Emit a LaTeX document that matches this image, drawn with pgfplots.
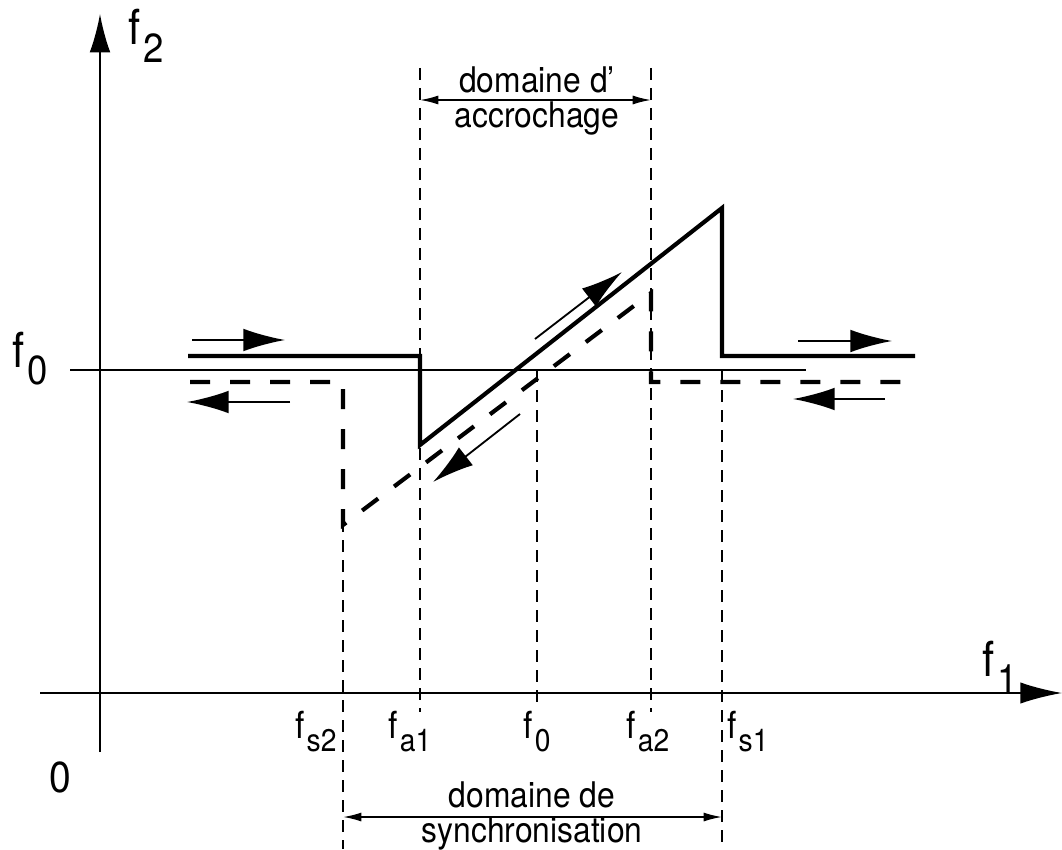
\documentclass[border=0pt]{standalone}
\usepackage{fontspec}
\setmainfont{TeX Gyre Heros}
\newfontfamily\narrowfont{TeX Gyre Heros}[FakeStretch=0.9, Ligatures=TeX]
\usepackage{graphicx}
\usepackage{pgfplots}
\pgfplotsset{compat=1.18}
\usetikzlibrary{arrows.meta}
% f with a lowered, smaller index
\newcommand{\fsub}[1]{f\kern0.05em\raisebox{-0.37em}{\scalebox{0.84}{#1}}}
\begin{document}
\begin{tikzpicture}
\begin{axis}[name=ax, at={(0,0)}, anchor=south west,
  width=318.6pt, height=254.7pt, scale only axis,
  xmin=0, xmax=1062, ymin=0, ymax=849, y dir=reverse,
  axis lines=none, clip=false,
  thin guide/.style={line width=0.35pt, dash pattern=on 3.6pt off 2.4pt},
  big head/.style={-{Latex[length=12.5pt,width=6.8pt]}},
]
% axes
\addplot[line width=0.5pt, -{Latex[length=12.5pt,width=6.4pt]}] coordinates {(40,693) (1062,693)};
\addplot[line width=0.5pt, -{Latex[length=11.5pt,width=6.2pt]}] coordinates {(100,752) (100,14)};
% f0 level
\addplot[line width=0.4pt] coordinates {(70,370) (806,370)};
% guide lines
\addplot[thin guide] coordinates {(343,520) (343,849)};
\addplot[thin guide] coordinates {(420,68) (420,712)};
\addplot[thin guide] coordinates {(537,370) (537,702)};
\addplot[thin guide] coordinates {(651,68) (651,712)};
\addplot[thin guide] coordinates {(722,370) (722,849)};
% characteristics
\addplot[line width=1.25pt, miter limit=4] coordinates {(188,356) (420,356) (420,445) (722,208) (722,356) (915,356)};
\addplot[line width=1.25pt, dash pattern=on 6pt off 6pt] coordinates {(190,382) (343,382) (343,525) (651,293) (651,382) (915,382)};
% direction arrows
\addplot[line width=0.55pt, big head] coordinates {(192,340) (285,340)};
\addplot[line width=0.55pt, big head] coordinates {(290,402) (187,402)};
\addplot[line width=0.55pt, big head] coordinates {(798,341) (892,341)};
\addplot[line width=0.55pt, big head] coordinates {(885,399) (793,399)};
\addplot[line width=0.55pt, big head] coordinates {(535,339) (622,272)};
\addplot[line width=0.55pt, big head] coordinates {(520,414) (433,482)};
% ranges
\addplot[line width=0.5pt, {Latex[length=5.5pt,width=2.7pt]}-{Latex[length=5.5pt,width=2.7pt]}] coordinates {(420,100) (651,100)};
\addplot[line width=0.5pt, {Latex[length=5.5pt,width=2.7pt]}-{Latex[length=5.5pt,width=2.7pt]}] coordinates {(343,817) (722,817)};
% texts
\begin{scope}[every node/.style={inner sep=0pt, font=\narrowfont\fontsize{10.6pt}{12pt}\selectfont}]
\node[anchor=base] at (537,92) {domaine d'};
\node[anchor=base] at (537,127) {accrochage};
\node[anchor=base] at (532,807) {domaine de};
\node[anchor=base] at (532,842) {synchronisation};
\end{scope}
\begin{scope}[every node/.style={inner sep=0pt, anchor=base, font=\narrowfont\fontsize{11.2pt}{13pt}\selectfont}]
\node at (316,738) {\fsub{s2}};
\node at (410,738) {\fsub{a1}};
\node at (537,738) {\fsub{0}};
\node at (648,738) {\fsub{a2}};
\node at (748,738) {\fsub{s1}};
\end{scope}
\begin{scope}[every node/.style={inner sep=0pt, anchor=base west, font=\narrowfont\fontsize{14.5pt}{16pt}\selectfont}]
\node at (128,45) {\fsub{2}};
\node at (12,367) {\fsub{0}};
\node at (982,676) {\fsub{1}};
\end{scope}
\node[inner sep=0pt, anchor=base, font=\narrowfont\fontsize{13pt}{15pt}\selectfont] at (60,792) {0};
\end{axis}
\pgfresetboundingbox
\path (ax.south west) rectangle (ax.north east);
\end{tikzpicture}
\end{document}
